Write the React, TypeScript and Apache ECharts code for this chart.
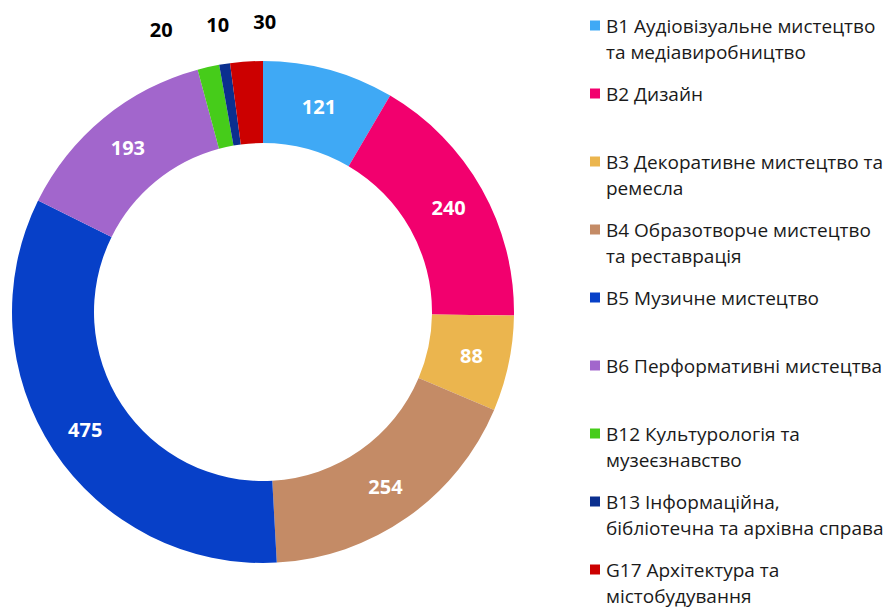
import React, { useEffect, useRef } from "react";
import * as echarts from "echarts";

const categories = [
  "B1 Аудіовізуальне мистецтво та медіавиробництво",
  "B2 Дизайн",
  "B3 Декоративне мистецтво та ремесла",
  "B4 Образотворче мистецтво та реставрація",
  "B5 Музичне мистецтво",
  "B6 Перформативні мистецтва",
  "B12 Культурологія та музеєзнавство",
  "B13 Інформаційна, бібліотечна та архівна справа",
  "G17 Архітектура та містобудування",
];
const legendLines: string[][] = [
  ["B1 Аудіовізуальне мистецтво", "та медіавиробництво"],
  ["B2 Дизайн", ""],
  ["B3 Декоративне мистецтво та", "ремесла"],
  ["B4 Образотворче мистецтво", "та реставрація"],
  ["B5 Музичне мистецтво", ""],
  ["B6 Перформативні мистецтва", ""],
  ["B12 Культурологія та", "музеєзнавство"],
  ["B13 Інформаційна,", "бібліотечна та архівна справа"],
  ["G17 Архітектура та", "містобудування"],
];
const values = [121, 240, 88, 254, 475, 193, 20, 10, 30];
const colors = [
  "#3FA9F5",
  "#F2006E",
  "#EBB54E",
  "#C48B66",
  "#0740C8",
  "#A266CC",
  "#46CC1A",
  "#0B2F8F",
  "#CC0000",
];
const outsideOffsets: Record<number, number[]> = {
  6: [-28, -3],
  7: [10, -5],
  8: [32, -5],
};

export default function App() {
  const ref = useRef<HTMLDivElement>(null);
  useEffect(() => {
    if (!ref.current) return;
    const chart = echarts.init(ref.current, null, { renderer: "svg" });
    const font = "'Open Sans', 'Noto Sans', sans-serif";
    const rich: Record<string, any> = {
      t: { fontFamily: font, fontSize: 19, color: "#1a1a1a", lineHeight: 26, verticalAlign: "middle" },
      gap: { width: 6, height: 10, lineHeight: 26 },
      ind: { width: 16, height: 10, lineHeight: 26 },
    };
    colors.forEach((c, i) => {
      rich["sq" + i] = { width: 10, height: 10, backgroundColor: c, verticalAlign: "middle", lineHeight: 26 };
    });
    const data = categories.map((name, i) => {
      const item: any = { name, value: values[i], itemStyle: { color: colors[i] } };
      if (outsideOffsets[i]) {
        item.label = {
          position: "outside",
          color: "#000",
          offset: outsideOffsets[i],
        };
        item.labelLine = { show: false, length: 35, length2: 0 };
      }
      return item;
    });
    chart.setOption({
      animation: false,
      legend: {
        type: "plain",
        orient: "vertical",
        left: 580,
        top: 11,
        height: 800,
        itemWidth: 0,
        itemHeight: 0,
        itemGap: 23.0,
        selectedMode: false,
        data: categories,
        formatter: (name: string) => {
          const i = categories.indexOf(name);
          const [l1, l2] = legendLines[i];
          return `{sq${i}|}{gap|}{t|${l1}}\n{ind|}{t|${l2}}`;
        },
        textStyle: { rich },
      },
      series: [
        {
          type: "pie",
          center: [263, 312],
          radius: [169, 251],
          startAngle: 90,
          clockwise: true,
          avoidLabelOverlap: false,
          label: {
            show: true,
            position: "inside",
            formatter: "{c}",
            color: "#fff",
            fontFamily: font,
            fontSize: 20,
            fontWeight: "bold",
            distanceToLabelLine: 0,
          },
          labelLine: { show: false, length: 35, length2: 0 },
          emphasis: { disabled: true },
          data,
        },
      ],
    });
    return () => chart.dispose();
  }, []);
  return (
    <div
      ref={ref}
      style={{ position: "fixed", left: 0, top: 0, width: 895, height: 607, background: "#fff" }}
    />
  );
}
